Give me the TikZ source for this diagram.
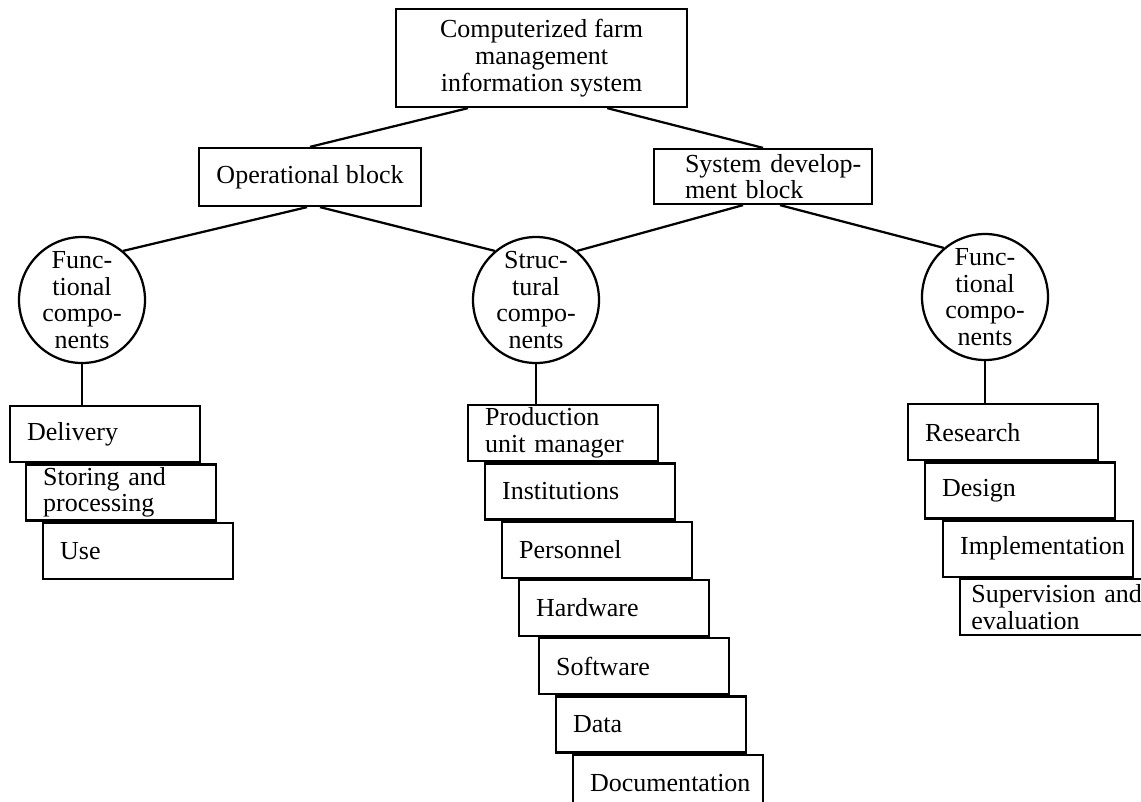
\documentclass[tikz,border=0pt]{standalone}
\usepackage{fontspec}
\setmainfont{Liberation Serif}
\usetikzlibrary{positioning}

\begin{document}
\begin{tikzpicture}[%
    line width=1.6pt, align=center,
    font=\fontsize{18.5}{19}\selectfont,
    block/.style={%
      draw,
      inner sep=0pt
    },
    comp/.style={%
      circle,
      minimum size=3.15cm,
      inner sep=0pt,
      draw
    },
    stepbox/.style={%
      draw,
      anchor=north west,
      text width=3.9cm,
      inner xsep=0.425cm,
      inner ysep=0.05cm,
      minimum height=1.4cm,
      align=left
    }
  ]
    \useasboundingbox (0,0) rectangle (28.525,-20.025);

    % blocks
    \node[block, minimum width=7.275cm, minimum height=2.45cm] (top) at (13.54,-1.45)
      {Computerized farm\\management\\information system};

    \node[block, minimum width=5.55cm, minimum height=1.45cm] (op) at (7.75,-4.425)
      {Operational block};

    \node[block, text width=3.9cm, inner xsep=0.775cm, minimum height=1.375cm, align=left]
      (sys) at (19.075,-4.4125) {\mbox{System develop-}\\ment block};

    % components
    \node[comp] (cL) at (2.05,-7.5) {Func-\\tional\\compo-\\nents};
    \node[comp] (cS) at (13.4,-7.5) {Struc-\\tural\\compo-\\nents};
    \node[comp] (cR) at (24.625,-7.425) {Func-\\tional\\compo-\\nents};

    % operational functions
    \node[stepbox] (del) at (0.225,-10.125) {Delivery};
    \node[stepbox, below right=0cm and 0.4cm of del.south west] (sto) {Storing and\\processing};
    \node[stepbox, below right=0cm and 0.425cm of sto.south west] (use) {Use};

    % structural components
    \node[stepbox] (prod) at (11.675,-10.1) {Production\\unit manager};
    \node[stepbox, below right=0cm and 0.425cm of prod.south west] (inst) {Institutions};
    \node[stepbox, below right=0cm and 0.425cm of inst.south west] (pers) {Personnel};
    \node[stepbox, below right=0cm and 0.425cm of pers.south west] (hard) {Hardware};
    \node[stepbox, below right=0cm and 0.5cm of hard.south west] (soft) {Software};
    \node[stepbox, below right=0cm and 0.425cm of soft.south west] (data) {Data};
    \node[stepbox, below right=0cm and 0.425cm of data.south west] (docu) {\mbox{Documentation}};

    % development functions
    \node[stepbox] (res) at (22.675,-10.075) {Research};
    \node[stepbox, below right=0cm and 0.425cm of res.south west] (des) {Design};
    \node[stepbox, below right=0cm and 0.45cm of des.south west] (impl) {\mbox{Implementation}};
    \node[stepbox, text width=4.19cm, inner xsep=0.28cm, below right=0cm and 0.425cm of impl.south west] (sup)
      {\mbox{Supervision and}\\evaluation};

    \path ([xshift=-1.84cm]top.south) edge (op.north)
          ([xshift=1.64cm]top.south) edge (sys.north)
          ([xshift=-0.075cm]op.south) edge (cL.50)
          ([xshift=0.25cm]op.south) edge (cS.130)
          ([xshift=-0.5cm]sys.south) edge (cS.50)
          ([xshift=0.425cm]sys.south) edge (cR.130)
          (cL.south) edge (cL.south |- del.north)
          (cS.south) edge (cS.south |- prod.north)
          (cR.south) edge (cR.south |- res.north)
    ;
\end{tikzpicture}
\end{document}
